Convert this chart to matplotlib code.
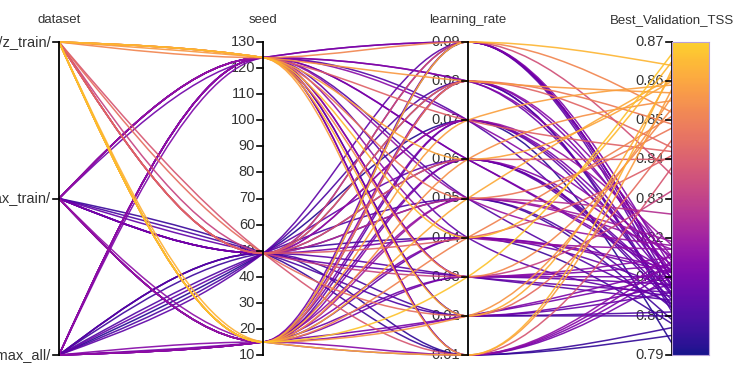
import numpy as np
import matplotlib
matplotlib.use("Agg")
import matplotlib.pyplot as plt
from matplotlib.path import Path
from matplotlib.patches import PathPatch
from matplotlib.colors import ListedColormap

# ---------------- data ----------------
axis_names = ["dataset", "seed", "learning_rate", "Best_Validation_TSS"]
dataset_labels = ["datasets/zu/z_train/", "datasets/minmax_train/", "datasets/minmax_all/"]
seeds = [124, 49, 15]
learning_rates = [0.01, 0.02, 0.03, 0.04, 0.05, 0.06, 0.07, 0.08, 0.09]

seed_ticks = [10, 20, 30, 40, 50, 60, 70, 80, 90, 100, 110, 120, 130]
lr_ticks = [0.01, 0.02, 0.03, 0.04, 0.05, 0.06, 0.07, 0.08, 0.09]
tss_ticks = [0.79, 0.80, 0.81, 0.82, 0.83, 0.84, 0.85, 0.86, 0.87]

# Best_Validation_TSS per (dataset, seed), one value per learning rate
tss_z_train_s124 = [0.858, 0.862, 0.853, 0.865, 0.848, 0.860, 0.842, 0.857, 0.852]
tss_z_train_s49 = [0.838, 0.845, 0.832, 0.841, 0.826, 0.840, 0.818, 0.843, 0.836]
tss_z_train_s15 = [0.863, 0.856, 0.867, 0.851, 0.861, 0.855, 0.859, 0.849, 0.864]
tss_max_train_s124 = [0.812, 0.808, 0.815, 0.805, 0.818, 0.810, 0.803, 0.814, 0.809]
tss_max_train_s49 = [0.797, 0.801, 0.806, 0.811, 0.799, 0.804, 0.808, 0.802, 0.807]
tss_max_train_s15 = [0.816, 0.812, 0.810, 0.807, 0.819, 0.813, 0.805, 0.811, 0.809]
tss_max_all_s124 = [0.810, 0.806, 0.813, 0.817, 0.803, 0.811, 0.815, 0.808, 0.812]
tss_max_all_s49 = [0.795, 0.800, 0.804, 0.798, 0.802, 0.806, 0.793, 0.801, 0.805]
tss_max_all_s15 = [0.814, 0.810, 0.808, 0.812, 0.817, 0.807, 0.811, 0.815, 0.809]

groups = [
    (0, 124, tss_z_train_s124), (0, 49, tss_z_train_s49), (0, 15, tss_z_train_s15),
    (1, 124, tss_max_train_s124), (1, 49, tss_max_train_s49), (1, 15, tss_max_train_s15),
    (2, 124, tss_max_all_s124), (2, 49, tss_max_all_s49), (2, 15, tss_max_all_s15),
]

seed_range = (10, 130)
lr_range = (0.01, 0.09)
tss_range = (0.79, 0.87)

# ---------------- helpers ----------------
def norm(v, r):
    return (v - r[0]) / (r[1] - r[0])

def ds_norm(i):
    return 1.0 - i / (len(dataset_labels) - 1)

def monotone_path(xs, ys):
    # d3 curveMonotoneX
    n = len(xs)
    t = [0.0] * n
    def sgn(v):
        return (v > 0) - (v < 0)
    for i in range(1, n - 1):
        h0 = xs[i] - xs[i - 1]
        h1 = xs[i + 1] - xs[i]
        s0 = (ys[i] - ys[i - 1]) / h0
        s1 = (ys[i + 1] - ys[i]) / h1
        p = (s0 * h1 + s1 * h0) / (h0 + h1)
        t[i] = (sgn(s0) + sgn(s1)) * min(abs(s0), abs(s1), 0.5 * abs(p))
    h = xs[1] - xs[0]
    t[0] = (3 * (ys[1] - ys[0]) / h - t[1]) / 2
    h = xs[-1] - xs[-2]
    t[-1] = (3 * (ys[-1] - ys[-2]) / h - t[-2]) / 2
    verts = [(xs[0], ys[0])]
    codes = [Path.MOVETO]
    for i in range(n - 1):
        dx = (xs[i + 1] - xs[i]) / 3
        verts += [(xs[i] + dx, ys[i] + dx * t[i]),
                  (xs[i + 1] - dx, ys[i + 1] - dx * t[i + 1]),
                  (xs[i + 1], ys[i + 1])]
        codes += [Path.CURVE4] * 3
    return Path(verts, codes)

base = plt.get_cmap("plasma")
cmap = ListedColormap(base(np.linspace(0.0, 0.9, 256)))

# ---------------- figure ----------------
plt.rcParams["font.family"] = ["Liberation Sans", "DejaVu Sans"]
fig = plt.figure(figsize=(7.5, 3.75), dpi=100)
W, H = 750, 375
x0px, x1px, ytop, ybot = 59, 672, 42, 355
ax = fig.add_axes([x0px / W, (H - ybot) / H, (x1px - x0px) / W, (ybot - ytop) / H])
ax.set_xlim(0, 3)
ax.set_ylim(0, 1)
ax.axis("off")

runs = []
for d, s, vals in groups:
    for lr, v in zip(learning_rates, vals):
        runs.append((d, s, lr, v))
runs.sort(key=lambda r: r[3])

xs = [0, 1, 2, 3]
for d, s, lr, v in runs:
    ys = [ds_norm(d), norm(s, seed_range), norm(lr, lr_range), norm(v, tss_range)]
    col = cmap(norm(v, tss_range))
    ax.add_patch(PathPatch(monotone_path(xs, ys), facecolor="none", edgecolor=col,
                           lw=1.1, alpha=0.9, zorder=2, clip_on=False))

# axes lines, ticks, labels
tick_len = 6 / (x1px - x0px) * 3
txt_col = "#333333"
fs = 9.5
for k in range(4):
    ax.plot([k, k], [0, 1], color="black", lw=1.3, zorder=4, clip_on=False)
    ax.text(k, 1 + 22 / (ybot - ytop), axis_names[k], ha="center", va="center",
            fontsize=fs, color=txt_col, clip_on=False)

def draw_ticks(k, positions, labels):
    for p, lab in zip(positions, labels):
        ax.plot([k - tick_len, k], [p, p], color="black", lw=1.2, zorder=4, clip_on=False)
        ax.text(k - tick_len * 1.35, p, lab, ha="right", va="center", fontsize=fs + 1,
                color=txt_col, zorder=1, clip_on=False)

draw_ticks(0, [ds_norm(i) for i in range(3)], dataset_labels)
draw_ticks(1, [norm(v, seed_range) for v in seed_ticks], [str(v) for v in seed_ticks])
draw_ticks(2, [norm(v, lr_range) for v in lr_ticks], [f"{v:.2f}" for v in lr_ticks])
draw_ticks(3, [norm(v, tss_range) for v in tss_ticks], [f"{v:.2f}" for v in tss_ticks])

# colorbar
cax = fig.add_axes([672 / W, (H - ybot) / H, 37 / W, (ybot - ytop) / H])
grad = np.linspace(0, 1, 256).reshape(-1, 1)
cax.imshow(grad, aspect="auto", cmap=cmap, origin="lower", extent=[0, 1, 0, 1], alpha=0.95)
cax.set_xticks([])
cax.set_yticks([])
for sp in cax.spines.values():
    sp.set_edgecolor("#b9a0d8")
    sp.set_linewidth(0.8)

fig.savefig("out.png", dpi=100)
